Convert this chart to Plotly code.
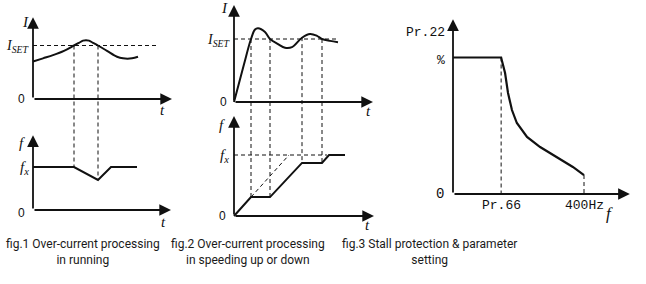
import plotly.graph_objects as go

W, H = 646, 284

# ---------------- data ----------------
# fig.1 top : current I (in units of I_SET) vs time t
fig1_t = [0.0, 1.0, 2.0, 3.1, 4.1, 4.6, 5.0, 5.3, 5.6, 6.0, 6.5, 7.4, 8.4, 9.0, 9.9, 10.5]
fig1_I = [0.70, 0.76, 0.82, 0.90, 1.00, 1.05, 1.09, 1.10, 1.09, 1.05, 1.00, 0.90, 0.79, 0.76, 0.76, 0.79]
# fig.1 bottom : output frequency f (in units of f_x)
fig1_ft = [0.0, 4.1, 6.5, 7.8, 10.4]
fig1_f = [1.0, 1.0, 0.70, 1.0, 1.0]
fig1_marks_t = [4.1, 6.5]
fig1_marks_I = [1.0, 1.0]
fig1_marks_f = [1.0, 0.70]
fig1_iset_end = 12.5

# fig.2 top : current while speeding up
fig2_t = [0.0, 1.0, 1.7, 2.1, 2.4, 3.1, 3.6, 4.4, 5.1, 5.8, 6.8, 7.6, 8.3, 8.8, 9.6, 10.4]
fig2_I = [0.0, 0.60, 1.0, 1.15, 1.17, 1.11, 1.0, 0.92, 0.86, 0.87, 1.02, 1.08, 1.05, 1.0, 0.97, 0.95]
# fig.2 bottom : frequency ramp with holds
fig2_ft = [0.0, 1.7, 3.6, 6.8, 8.8, 9.5, 11.1]
fig2_f = [0.0, 0.31, 0.31, 0.87, 0.87, 1.0, 1.0]
fig2_marks_t = [1.7, 3.6, 6.8, 8.8]
fig2_marks_I = [1.0, 1.0, 1.03, 1.0]
fig2_marks_f = [0.31, 0.31, 0.87, 0.87]
fig2_ramp_t = [1.7, 5.5]
fig2_ramp_f = [0.31, 1.0]
fig2_iset_end = 10.4
fig2_fx_end = 9.3

# fig.3 : stall protection level (fraction of Pr.22) vs frequency (Hz)
fig3_hz = [0, 147, 149, 159, 168, 180, 195, 226, 266, 318, 366, 400]
fig3_pct = [1.0, 1.0, 0.98, 0.886, 0.74, 0.615, 0.52, 0.418, 0.344, 0.271, 0.198, 0.139]
fig3_tick_hz = [147, 400]
fig3_tick_text = ["Pr.66", "400Hz"]

captions = [
    "fig.1 Over-current processing<br>in running",
    "fig.2 Over-current processing<br>in speeding up or down",
    "fig.3 Stall protection &amp; parameter<br>setting",
]
caption_x = [83, 248, 429]

# ---------------- layout geometry (pixel origin & scale of each panel) ----------------
panels = {
    "A": dict(ox=33, oy=99, sx=10, sy=53.5, xt=13.9, yt=1.53, ax="x", ay="y"),
    "B": dict(ox=33, oy=210, sx=10, sy=43, xt=13.8, yt=1.74, ax="x2", ay="y2"),
    "C": dict(ox=234, oy=102, sx=10, sy=63, xt=13.9, yt=1.54, ax="x3", ay="y3"),
    "D": dict(ox=234, oy=216, sx=10, sy=61, xt=14.0, yt=1.64, ax="x4", ay="y4"),
    "E": dict(ox=453, oy=194, sx=131 / 400, sy=136.5, xt=540, yt=1.28, ax="x5", ay="y5"),
}

INK = "#111111"
SERIF = "Liberation Serif, Times New Roman, serif"
SANS = "Liberation Sans, Arial, sans-serif"
MONO = "Liberation Mono, Courier New, monospace"
DASH = "4px,3px"

fig = go.Figure()
layout_axes = {}
for i, (k, p) in enumerate(panels.items()):
    n = "" if i == 0 else str(i + 1)
    layout_axes["xaxis" + n] = dict(domain=[0, 1], range=[-p["ox"] / p["sx"], (W - p["ox"]) / p["sx"]],
                                    visible=False, fixedrange=True, anchor="y" + n)
    layout_axes["yaxis" + n] = dict(domain=[0, 1], range=[(p["oy"] - H) / p["sy"], p["oy"] / p["sy"]],
                                    visible=False, fixedrange=True, anchor="x" + n)


def line(panel, xs, ys, width=2.0, dash=None, shape="linear"):
    p = panels[panel]
    fig.add_trace(go.Scatter(x=xs, y=ys, mode="lines", xaxis=p["ax"], yaxis=p["ay"],
                             line=dict(color=INK, width=width, dash=dash, shape=shape),
                             hoverinfo="skip", showlegend=False))


annotations = []


def arrow(panel, x0, y0, x1, y1):
    p = panels[panel]
    annotations.append(dict(xref=p["ax"], yref=p["ay"], axref=p["ax"], ayref=p["ay"],
                            x=x1, y=y1, ax=x0, ay=y0, text="", showarrow=True,
                            arrowhead=2, arrowsize=1.3, arrowwidth=1.8, arrowcolor=INK, standoff=0))


def label(panel, x, y, text, font, size, dx=0, dy=0, xanchor="center"):
    p = panels[panel]
    annotations.append(dict(xref=p["ax"], yref=p["ay"], x=x, y=y, text=text, showarrow=False,
                            xanchor=xanchor, yanchor="middle", xshift=dx, yshift=-dy,
                            font=dict(family=font, size=size, color=INK)))


def paper_y(panel, v):
    p = panels[panel]
    return 1 - (p["oy"] - v * p["sy"]) / H


shapes = []


def connector(top, bottom, t, vtop, vbot):
    p = panels[top]
    shapes.append(dict(type="line", xref=p["ax"], yref="paper", x0=t, x1=t,
                       y0=paper_y(top, vtop), y1=paper_y(bottom, vbot),
                       line=dict(color=INK, width=1, dash=DASH)))


# axes with arrows
for k, p in panels.items():
    arrow(k, 0, 0, p["xt"], 0)
    arrow(k, 0, 0, 0, p["yt"])

# ---- fig.1 ----
line("A", [0, fig1_iset_end], [1, 1], width=1, dash=DASH)
line("A", fig1_t, fig1_I, shape="spline")
line("B", fig1_ft, fig1_f)
for t, a, b in zip(fig1_marks_t, fig1_marks_I, fig1_marks_f):
    connector("A", "B", t, a, b)
label("A", 0, panels["A"]["yt"], "<i>I</i>", SERIF, 15, dx=-8, dy=5)
label("A", 0, 1, "<i>I</i><sub><i>SET</i></sub>", SERIF, 14, dx=-1, dy=1, xanchor="right")
label("A", 0, 0, "0", SANS, 12, dx=-12)
label("A", panels["A"]["xt"], 0, "<i>t</i>", SERIF, 15, dx=-10, dy=11)
label("B", 0, panels["B"]["yt"], "<i>f</i>", SERIF, 15, dx=-11, dy=8)
label("B", 0, 1, "<i>f</i><sub><i>x</i></sub>", SERIF, 15, dx=-2, dy=1, xanchor="right")
label("B", 0, 0, "0", SANS, 12, dx=-12, dy=3)
label("B", panels["B"]["xt"], 0, "<i>t</i>", SERIF, 15, dx=-8, dy=12)

# ---- fig.2 ----
line("C", [0, fig2_iset_end], [1, 1], width=1, dash=DASH)
line("C", fig2_t, fig2_I, shape="spline")
line("D", [0, fig2_fx_end], [1, 1], width=1, dash=DASH)
line("D", fig2_ramp_t, fig2_ramp_f, width=1, dash=DASH)
line("D", fig2_ft, fig2_f)
for t, a, b in zip(fig2_marks_t, fig2_marks_I, fig2_marks_f):
    connector("C", "D", t, a, b)
label("C", 0, panels["C"]["yt"], "<i>I</i>", SERIF, 15, dx=-10, dy=3)
label("C", 0, 1, "<i>I</i><sub><i>SET</i></sub>", SERIF, 14, dx=-1, dy=1, xanchor="right")
label("C", 0, 0, "0", SANS, 12, dx=-11)
label("C", panels["C"]["xt"], 0, "<i>t</i>", SERIF, 15, dx=-5, dy=9)
label("D", 0, panels["D"]["yt"], "<i>f</i>", SERIF, 15, dx=-12, dy=9)
label("D", 0, 1, "<i>f</i><sub><i>x</i></sub>", SERIF, 15, dx=-3, dy=1, xanchor="right")
label("D", 0, 0, "0", SANS, 12, dx=-12)
label("D", panels["D"]["xt"], 0, "<i>t</i>", SERIF, 15, dx=-7, dy=9)

# ---- fig.3 ----
line("E", fig3_hz, fig3_pct, width=2.2)
for hz, v in zip(fig3_tick_hz, [fig3_pct[1], fig3_pct[-1]]):
    shapes.append(dict(type="line", xref="x5", yref="y5", x0=hz, x1=hz, y0=v, y1=0,
                       line=dict(color=INK, width=1, dash=DASH)))
for hz, txt in zip(fig3_tick_hz, fig3_tick_text):
    label("E", hz, 0, txt, MONO, 13, dy=11)
label("E", 0, panels["E"]["yt"], "Pr.22", MONO, 13, dx=-28, dy=13)
label("E", 0, 1, "%", MONO, 13, dx=-12, dy=3)
label("E", 0, 0, "0", MONO, 14, dx=-13)
label("E", panels["E"]["xt"], 0, "<i>f</i>", SERIF, 17, dx=-20, dy=19)

# ---- captions ----
for cx, txt in zip(caption_x, captions):
    annotations.append(dict(xref="paper", yref="paper", x=cx / W, y=1 - 252 / H, text=txt,
                            showarrow=False, xanchor="center", yanchor="middle", align="center",
                            font=dict(family="Roboto, Liberation Sans, Arial", size=12, color="#1a1a1a")))

fig.update_layout(width=W, height=H, autosize=False,
                  margin=dict(l=0, r=0, t=0, b=0, pad=0),
                  paper_bgcolor="white", plot_bgcolor="rgba(0,0,0,0)",
                  showlegend=False, annotations=annotations, shapes=shapes, **layout_axes)

fig.write_html("out.html", config={"displayModeBar": False, "staticPlot": True})
